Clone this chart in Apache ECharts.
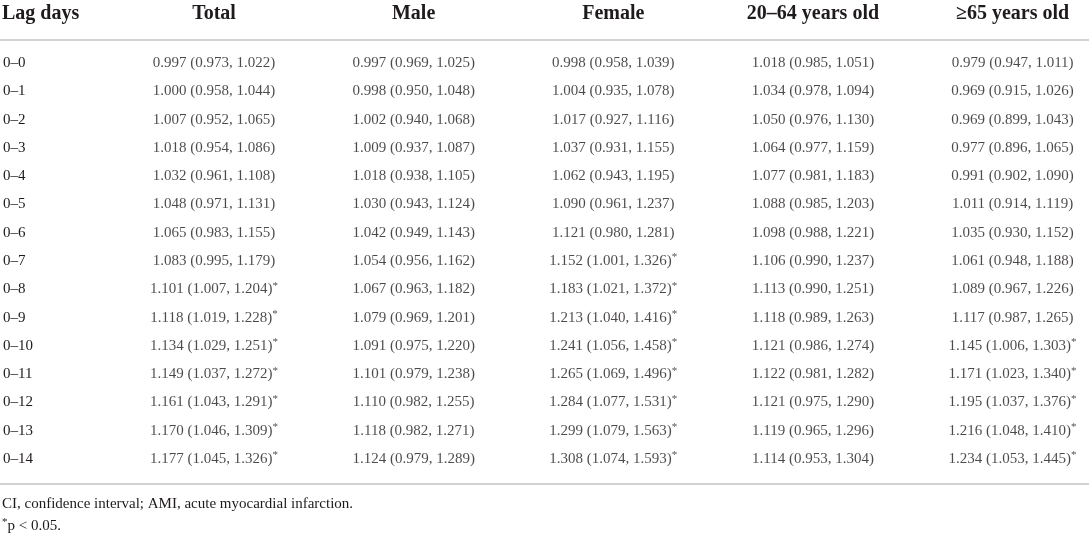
<!DOCTYPE html>
<html>
<head>
<meta charset="utf-8">
<script src="https://cdn.jsdelivr.net/npm/echarts@6/dist/echarts.min.js"></script>
<style>
html, body { margin: 0; padding: 0; background: #fff; }
#chart { width: 1089px; height: 537px; }
</style>
</head>
<body>
<div id="chart"></div>
<script>
// rows and column headers
var lagDays = ['0–0', '0–1', '0–2', '0–3', '0–4', '0–5', '0–6', '0–7',
               '0–8', '0–9', '0–10', '0–11', '0–12', '0–13', '0–14'];
var groups = ['Total', 'Male', 'Female', '20–64 years old', '≥65 years old'];

// [estimate, lower CI, upper CI] per lag day
var total = [
    [0.997, 0.973, 1.022], [1.000, 0.958, 1.044], [1.007, 0.952, 1.065],
    [1.018, 0.954, 1.086], [1.032, 0.961, 1.108], [1.048, 0.971, 1.131],
    [1.065, 0.983, 1.155], [1.083, 0.995, 1.179], [1.101, 1.007, 1.204],
    [1.118, 1.019, 1.228], [1.134, 1.029, 1.251], [1.149, 1.037, 1.272],
    [1.161, 1.043, 1.291], [1.170, 1.046, 1.309], [1.177, 1.045, 1.326]
];
var male = [
    [0.997, 0.969, 1.025], [0.998, 0.950, 1.048], [1.002, 0.940, 1.068],
    [1.009, 0.937, 1.087], [1.018, 0.938, 1.105], [1.030, 0.943, 1.124],
    [1.042, 0.949, 1.143], [1.054, 0.956, 1.162], [1.067, 0.963, 1.182],
    [1.079, 0.969, 1.201], [1.091, 0.975, 1.220], [1.101, 0.979, 1.238],
    [1.110, 0.982, 1.255], [1.118, 0.982, 1.271], [1.124, 0.979, 1.289]
];
var female = [
    [0.998, 0.958, 1.039], [1.004, 0.935, 1.078], [1.017, 0.927, 1.116],
    [1.037, 0.931, 1.155], [1.062, 0.943, 1.195], [1.090, 0.961, 1.237],
    [1.121, 0.980, 1.281], [1.152, 1.001, 1.326], [1.183, 1.021, 1.372],
    [1.213, 1.040, 1.416], [1.241, 1.056, 1.458], [1.265, 1.069, 1.496],
    [1.284, 1.077, 1.531], [1.299, 1.079, 1.563], [1.308, 1.074, 1.593]
];
var age20to64 = [
    [1.018, 0.985, 1.051], [1.034, 0.978, 1.094], [1.050, 0.976, 1.130],
    [1.064, 0.977, 1.159], [1.077, 0.981, 1.183], [1.088, 0.985, 1.203],
    [1.098, 0.988, 1.221], [1.106, 0.990, 1.237], [1.113, 0.990, 1.251],
    [1.118, 0.989, 1.263], [1.121, 0.986, 1.274], [1.122, 0.981, 1.282],
    [1.121, 0.975, 1.290], [1.119, 0.965, 1.296], [1.114, 0.953, 1.304]
];
var age65plus = [
    [0.979, 0.947, 1.011], [0.969, 0.915, 1.026], [0.969, 0.899, 1.043],
    [0.977, 0.896, 1.065], [0.991, 0.902, 1.090], [1.011, 0.914, 1.119],
    [1.035, 0.930, 1.152], [1.061, 0.948, 1.188], [1.089, 0.967, 1.226],
    [1.117, 0.987, 1.265], [1.145, 1.006, 1.303], [1.171, 1.023, 1.340],
    [1.195, 1.037, 1.376], [1.216, 1.048, 1.410], [1.234, 1.053, 1.445]
];
var footnotes = ['CI, confidence interval; AMI, acute myocardial infarction.', 'p < 0.05.'];

var columns = [total, male, female, age20to64, age65plus];
var FONT = '"Liberation Serif", "DejaVu Serif", serif';
var TEXT = '#1f1b1c';
var RULE = '#d2d2d2';

// one invisible point per cell, the cell text is its label
var cells = [];
columns.forEach(function (col, c) {
    col.forEach(function (v, r) {
        cells.push({ value: [c, r], ci: v });
    });
});

function cellText(ci) {
    var s = ci[0].toFixed(3) + ' (' + ci[1].toFixed(3) + ', ' + ci[2].toFixed(3) + ')';
    // CI not crossing 1 -> p < 0.05
    if (ci[1] > 1 || ci[2] < 1) {
        return '{v|' + s + '}{s|*}';
    }
    return '{v|' + s + '}';
}

var richText = {
    v: { fontFamily: FONT, fontSize: 15, fontWeight: 'normal', color: TEXT, lineHeight: 18 },
    s: { fontFamily: FONT, fontSize: 11, fontWeight: 'normal', color: TEXT, verticalAlign: 'top', lineHeight: 12 }
};

var myChart = echarts.init(document.getElementById('chart'));

var option = {
    animation: false,
    backgroundColor: '#fff',
    textStyle: { fontFamily: FONT, color: TEXT },
    title: [
        {
            text: 'Lag days',
            left: 2, top: 4, padding: 0,
            textStyle: { fontFamily: FONT, fontSize: 20, fontWeight: 'bold', color: TEXT }
        },
        {
            text: footnotes[0],
            left: 2, top: 497, padding: 0,
            textStyle: { fontFamily: FONT, fontSize: 15, fontWeight: 'normal', color: TEXT }
        },
        {
            text: '{s|*}{v|' + footnotes[1] + '}',
            left: 2, top: 517, padding: 0,
            textStyle: { fontFamily: FONT, fontWeight: 'normal', rich: richText }
        }
    ],
    graphic: [
        { type: 'line', shape: { x1: 0, y1: 40, x2: 1089, y2: 40 }, style: { stroke: RULE, lineWidth: 2 }, silent: true },
        { type: 'line', shape: { x1: 0, y1: 484, x2: 1089, y2: 484 }, style: { stroke: RULE, lineWidth: 2 }, silent: true }
    ],
    grid: { left: 213, top: 63, width: 799.6, height: 396 },
    xAxis: {
        type: 'category',
        data: groups,
        position: 'top',
        boundaryGap: false,
        axisLine: { show: false },
        axisTick: { show: false },
        splitLine: { show: false },
        axisLabel: {
            interval: 0,
            margin: 49,
            verticalAlign: 'middle',
            fontFamily: FONT,
            fontSize: 20,
            fontWeight: 'bold',
            color: TEXT
        }
    },
    yAxis: {
        type: 'category',
        data: lagDays,
        inverse: true,
        boundaryGap: false,
        axisLine: { show: false },
        axisTick: { show: false },
        splitLine: { show: false },
        axisLabel: {
            interval: 0,
            margin: 211,
            align: 'left',
            fontFamily: FONT,
            fontSize: 15,
            color: TEXT
        }
    },
    series: [{
        type: 'scatter',
        data: cells,
        symbolSize: 0,
        silent: true,
        label: {
            show: true,
            position: 'inside',
            formatter: function (p) { return cellText(p.data.ci); },
            rich: richText
        }
    }]
};

myChart.setOption(option);
</script>
</body>
</html>
